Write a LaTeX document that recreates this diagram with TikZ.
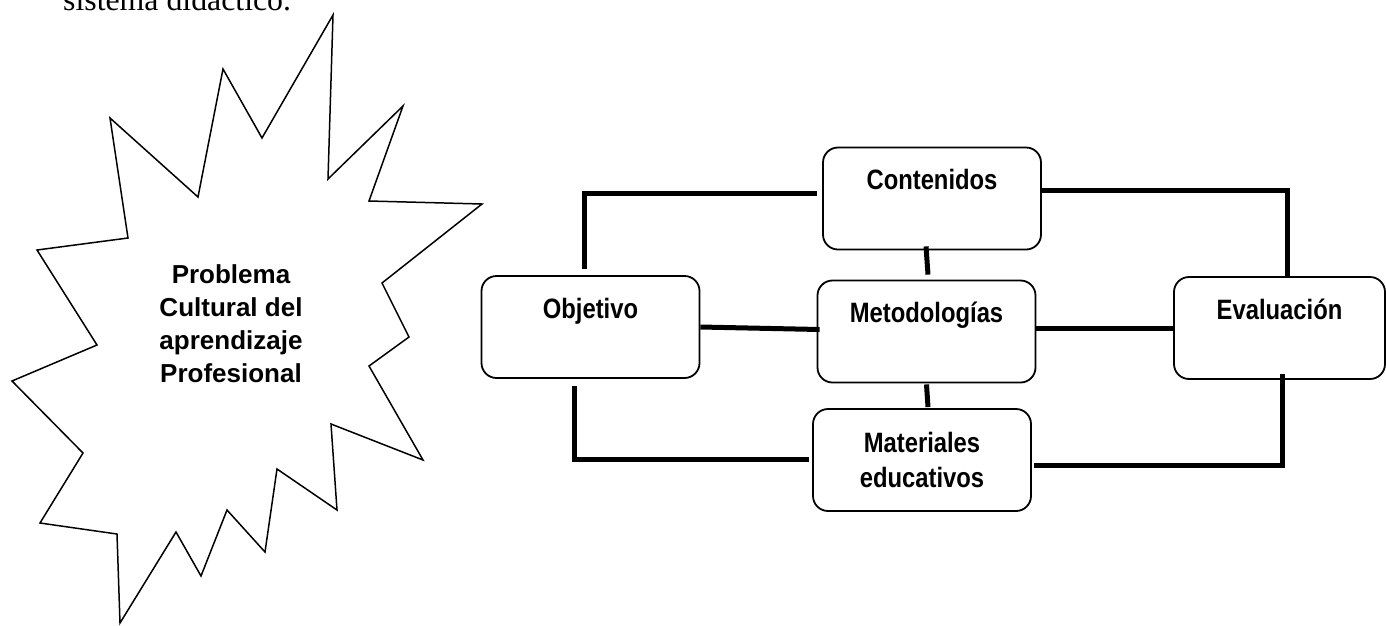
\documentclass[tikz,border=0pt]{standalone}
\usepackage{fontspec}
\setmainfont{Liberation Serif}
\newfontfamily\arialfont{Liberation Sans}
\newfontfamily\narrowfont[FakeStretch=0.85]{Liberation Sans}
\tikzset{
  caja/.style={draw, rounded corners=15pt, line width=1.8pt, minimum width=218pt, minimum height=102pt,
    inner ysep=22pt, text height=20pt, text depth=38pt, align=center,
    font=\narrowfont\bfseries\fontsize{28}{35}\selectfont},
  enlace/.style={line width=5pt}
}
\begin{document}
\begin{tikzpicture}[x=1pt, y=-1pt]
	\useasboundingbox (0,0) rectangle (1386,625);
	\node[anchor=base west, inner sep=0pt, font=\fontsize{31.8}{38}\selectfont] (tit) at (63,10) {sistema didáctico.};
	\draw[line width=1.5pt] (333,15) -- (328,179) -- (403,106) -- (369,201) -- (482,204) -- (382,283) -- (409,337) -- (369,366) -- (423,460) -- (331,424) -- (337,510) -- (277,469) -- (265,552) -- (227,510) -- (201,576) -- (176,532) -- (120,623) -- (117,534) -- (40,523) -- (83,453) -- (12,381) -- (97,345) -- (37,250) -- (128,238) -- (110,118) -- (198,197) -- (223,69) -- (262,138) -- cycle;
	\node[align=center, font=\arialfont\bfseries\fontsize{26}{33}\selectfont] (prob) at (231,324) {Problema\\Cultural del\\aprendizaje\\Profesional};
	\node[caja] (obj) at (590.5,327) {Objetivo};
	\node[caja] (cont) at (932,198.5) {Contenidos};
	\node[caja] (met) at (926.5,331.5) {Metodologías};
	\node[caja, text height=56pt, text depth=2pt] (mat) at (922,460) {Materiales\\educativos};
	\node[caja, minimum width=211pt] (eva) at (1279.5,328) {Evaluación};
	\draw[enlace] ([xshift=-6pt,yshift=6pt]obj.north) |- ([xshift=-5pt,yshift=5pt]cont.west);
	\draw[enlace] ([yshift=8.5pt]cont.east) -| ([xshift=7.5pt]eva.north);
	\draw[enlace] ([xshift=-6pt,yshift=4pt]cont.south) -- ([xshift=1.5pt,yshift=5pt]met.north);
	\draw[enlace] (obj.east) -- ([xshift=3pt,yshift=2pt]met.west);
	\draw[enlace] ([yshift=3.5pt]met.east) -- (eva.west);
	\draw[enlace] ([yshift=-1pt]met.south) -- ([xshift=6pt,yshift=1pt]mat.north);
	\draw[enlace] ([xshift=-16.5pt,yshift=-7pt]obj.south) |- ([xshift=-3pt,yshift=1pt]mat.west);
	\draw[enlace] ([xshift=2pt,yshift=-5pt]mat.east) -| ([xshift=2.5pt,yshift=6pt]eva.south);
\end{tikzpicture}
\end{document}
